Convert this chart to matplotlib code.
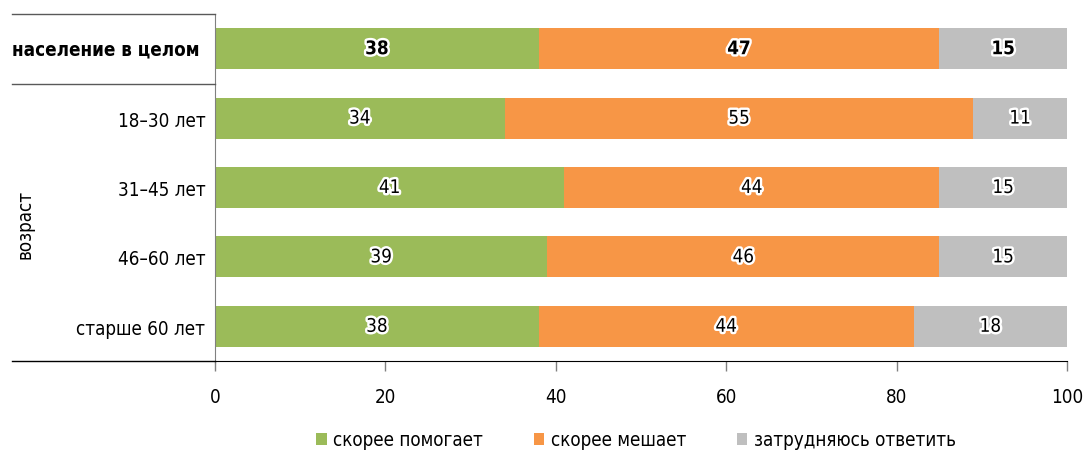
import matplotlib
matplotlib.use('Agg')
import matplotlib.pyplot as plt
import matplotlib.patheffects as pe
from matplotlib.lines import Line2D
from matplotlib.patches import Patch

# ─────────────────────────────────────────
# DATA
# ─────────────────────────────────────────
groups = ['население в целом', '18–30 лет', '31–45 лет', '46–60 лет', 'старше 60 лет']
helps = [38, 34, 41, 39, 38]
hinders = [47, 55, 44, 46, 44]
unsure = [15, 11, 15, 15, 18]
series_names = ['скорее помогает', 'скорее мешает', 'затрудняюсь ответить']
x_ticks = [0, 20, 40, 60, 80, 100]

colors = ['#9BBB59', '#F79646', '#BFBFBF']

# condensed DejaVu is closest to the narrow report typeface
plt.rcParams['font.family'] = ['DejaVu Sans']
plt.rcParams['font.stretch'] = 'condensed'
FS = 13.5

W, H = 1085, 452
fig = plt.figure(figsize=(W / 100, H / 100), dpi=100)
ax = fig.add_axes([215 / W, 1 - 362 / H, (1067 - 215) / W, (362 - 15) / H])

ypos = list(range(len(groups)))
left = [0] * len(groups)
for vals, col in zip([helps, hinders, unsure], colors):
    ax.barh(ypos, vals, left=left, height=0.59, color=col, zorder=2)
    for y, l, v in zip(ypos, left, vals):
        t = ax.text(l + v / 2, y, str(v), ha='center', va='center',
                    fontsize=FS, color='black',
                    fontweight='bold' if y == 0 else 'normal', zorder=3)
        t.set_path_effects([pe.withStroke(linewidth=3.5, foreground='white')])
    left = [a + b for a, b in zip(left, vals)]

ax.set_xlim(0, 100)
ax.set_ylim(len(groups) - 0.5, -0.5)
ax.set_xticks(x_ticks)
ax.set_xticklabels([str(t) for t in x_ticks], fontsize=FS)
ax.tick_params(axis='x', length=7, width=1, color='#808080', pad=12)
ax.set_yticks(ypos)
ax.set_yticklabels([''] + groups[1:], fontsize=FS)
ax.tick_params(axis='y', length=0, pad=7)

for s in ['top', 'right']:
    ax.spines[s].set_visible(False)
ax.spines['left'].set_color('#808080')
ax.spines['left'].set_bounds(len(groups) - 0.5 + 0.03, -0.5)
ax.spines['bottom'].set_color('black')

# group header and separators in the label column
ax.text(-0.238, 0, groups[0], transform=ax.get_yaxis_transform(),
        ha='left', va='center', fontsize=FS, fontweight='bold')
fig.add_artist(Line2D([12 / W, 215 / W], [1 - 15 / H] * 2, color='#595959', lw=1))
fig.add_artist(Line2D([12 / W, 215 / W], [1 - 85 / H] * 2, color='#595959', lw=1))
fig.add_artist(Line2D([12 / W, 215 / W], [1 - 362 / H] * 2, color='black', lw=1))
fig.text(25 / W, 1 - 224 / H, 'возраст', rotation=90, ha='center', va='center', fontsize=FS)

handles = [Patch(facecolor=c, edgecolor='none') for c in colors]
fig.legend(handles, series_names, loc='center', bbox_to_anchor=(636 / W, 1 - 441 / H),
           ncol=3, frameon=False, fontsize=FS, handlelength=0.55, handleheight=0.55,
           handletextpad=0.35, columnspacing=2.7)

fig.savefig('out.png', dpi=100)
